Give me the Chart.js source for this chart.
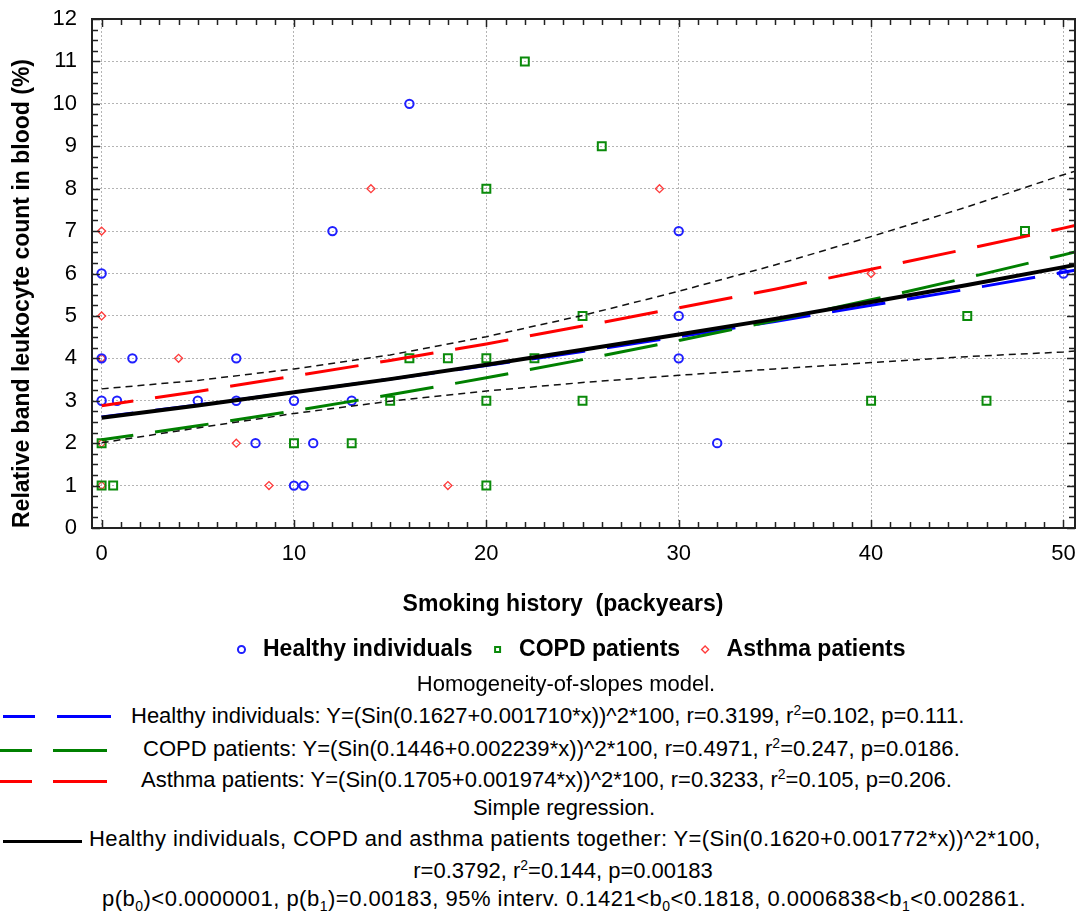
<!DOCTYPE html>
<html>
<head>
<meta charset="utf-8">
<script src="https://cdn.jsdelivr.net/npm/chart.js@4.4.1/dist/chart.umd.min.js"></script>
<style>
  body { margin: 0; background: #fff; }
  #wrap { position: relative; width: 1079px; height: 913px; overflow: hidden; }
  #box { position: absolute; left: 0; top: 0; width: 1079px; height: 680px; }
  .t { position: absolute; font: 22px "Liberation Sans", Arial, sans-serif; color: #000; white-space: nowrap; line-height: 26px; }
  .c { transform: translateX(-50%); }
  .t sup, .t sub { font-size: 14px; line-height: 0; }
  .s { position: absolute; height: 3px; }
</style>
</head>
<body>
<div id="wrap">
  <div id="box"><canvas id="chart"></canvas></div>

  <div class="t c" style="left:566px;top:671px">Homogeneity-of-slopes model.</div>

  <div class="s" style="left:3px;top:715px;width:32px;background:#0000ff"></div>
  <div class="s" style="left:57px;top:715px;width:54px;background:#0000ff"></div>
  <div class="t" style="left:131px;top:703px">Healthy individuals: Y=(Sin(0.1627+0.001710*x))^2*100, r=0.3199, r<sup>2</sup>=0.102, p=0.111.</div>

  <div class="s" style="left:0px;top:749px;width:32px;background:#008000"></div>
  <div class="s" style="left:53px;top:749px;width:54px;background:#008000"></div>
  <div class="t" style="left:143px;top:736px;letter-spacing:0.06px">COPD patients: Y=(Sin(0.1446+0.002239*x))^2*100, r=0.4971, r<sup>2</sup>=0.247, p=0.0186.</div>

  <div class="s" style="left:0px;top:780px;width:32px;background:#ff0000"></div>
  <div class="s" style="left:53px;top:780px;width:54px;background:#ff0000"></div>
  <div class="t" style="left:141px;top:767px">Asthma patients: Y=(Sin(0.1705+0.001974*x))^2*100, r=0.3233, r<sup>2</sup>=0.105, p=0.206.</div>

  <div class="t c" style="left:564px;top:795px">Simple regression.</div>

  <div class="s" style="left:3px;top:840px;width:79px;background:#000"></div>
  <div class="t" style="left:89px;top:826px;letter-spacing:0.4px">Healthy individuals, COPD and asthma patients together: Y=(Sin(0.1620+0.001772*x))^2*100,</div>
  <div class="t c" style="left:563px;top:858px">r=0.3792, r<sup>2</sup>=0.144, p=0.00183</div>
  <div class="t c" style="left:564px;top:886px;letter-spacing:0.5px">p(b<sub>0</sub>)&lt;0.0000001, p(b<sub>1</sub>)=0.00183, 95% interv. 0.1421&lt;b<sub>0</sub>&lt;0.1818, 0.0006838&lt;b<sub>1</sub>&lt;0.002861.</div>
</div>

<script>
// scatter data
var healthyX = [0, 0, 0, 0.8, 1.6, 5, 7, 7, 8, 10, 10, 10.5, 11, 12, 13, 16, 30, 30, 30, 32, 50];
var healthyY = [6, 4, 3, 3, 4, 3, 4, 3, 2, 3, 1, 1, 2, 7, 3, 10, 7, 5, 4, 2, 6];

var copdX = [0, 0, 0.6, 10, 13, 15, 16, 18, 20, 20, 20, 20, 22, 22.5, 25, 25, 26, 40, 45, 46, 48];
var copdY = [2, 1, 1, 2, 2, 3, 4, 4, 8, 4, 3, 1, 11, 4, 5, 3, 9, 3, 5, 3, 7];

var asthmaX = [0, 0, 0, 0, 0, 4, 7, 8.7, 14, 18, 29, 40];
var asthmaY = [7, 5, 4, 2, 1, 4, 2, 1, 8, 1, 8, 6];

// fitted curves, read at every 5 packyears
var fitX = [0, 5, 10, 15, 20, 25, 30, 35, 40, 45, 50, 50.6];
var healthyFit = [2.62, 2.90, 3.20, 3.51, 3.83, 4.16, 4.51, 4.87, 5.25, 5.63, 6.03, 6.08];
var copdFit = [2.08, 2.41, 2.76, 3.14, 3.54, 3.97, 4.42, 4.89, 5.38, 5.90, 6.44, 6.51];
var asthmaFit = [2.88, 3.22, 3.58, 3.95, 4.34, 4.76, 5.19, 5.63, 6.10, 6.58, 7.07, 7.13];
var allFit = [2.60, 2.89, 3.20, 3.51, 3.85, 4.20, 4.56, 4.93, 5.33, 5.73, 6.15, 6.20];
var upperBand = [3.28, 3.48, 3.75, 4.08, 4.51, 5.01, 5.58, 6.20, 6.87, 7.57, 8.33, 8.41];
var lowerBand = [2.01, 2.36, 2.70, 2.99, 3.23, 3.43, 3.60, 3.75, 3.90, 4.04, 4.15, 4.17];

var xTicks = [0, 10, 20, 30, 40, 50];
var yTicks = [0, 1, 2, 3, 4, 5, 6, 7, 8, 9, 10, 11, 12];

var xTitle = 'Smoking history  (packyears)';
var yTitle = 'Relative band leukocyte count in blood (%)';

function toPoints(xs, ys) {
    return xs.map(function(x, i) { return {x: x, y: ys[i]}; });
}

var FONT = '"Liberation Sans", Arial, sans-serif';
Chart.defaults.font.family = FONT;
Chart.defaults.color = '#000';

// frame, inward tick marks and the x title
var framePlugin = {
    id: 'frame',
    afterLayout: function(chart) {
        // legend sits a little left of the plot centre in the original
        chart.legend.left -= 15;
        chart.legend.right -= 15;
    },
    afterDraw: function(chart) {
        var ctx = chart.ctx;
        var a = chart.chartArea;
        var xs = chart.scales.x;
        var ys = chart.scales.y;
        ctx.save();
        ctx.strokeStyle = '#222';
        ctx.lineWidth = 1.5;
        ctx.beginPath();
        for (var v = Math.ceil(xs.min); v <= xs.max; v++) {
            var px = Math.round(xs.getPixelForValue(v)) + 0.5;
            var len = v % 10 === 0 ? 8 : 6;
            ctx.moveTo(px, a.bottom); ctx.lineTo(px, a.bottom - len);
            ctx.moveTo(px, a.top); ctx.lineTo(px, a.top + len);
        }
        for (var k = 0; k <= ys.max * 4; k++) {
            var py = Math.round(ys.getPixelForValue(k / 4)) + 0.5;
            var l2 = k % 4 === 0 ? 8 : 6;
            ctx.moveTo(a.left, py); ctx.lineTo(a.left + l2, py);
            ctx.moveTo(a.right, py); ctx.lineTo(a.right - l2, py);
        }
        ctx.stroke();
        ctx.lineWidth = 2;
        ctx.strokeRect(a.left, a.top, a.right - a.left, a.bottom - a.top);
        ctx.fillStyle = '#000';
        ctx.font = 'bold 23px ' + FONT;
        ctx.textAlign = 'center';
        ctx.textBaseline = 'middle';
        ctx.fillText(xTitle, 563, a.bottom + 77);
        ctx.restore();
    }
};

var markerSets = [
    {label: 'Healthy individuals', data: toPoints(healthyX, healthyY), pointStyle: 'circle', pointRadius: 4.2, borderColor: '#1f1fff', borderWidth: 2, order: 10},
    {label: 'COPD patients', data: toPoints(copdX, copdY), pointStyle: 'rect', pointRadius: 5.6, borderColor: '#0a8a0a', borderWidth: 2, order: 11},
    {label: 'Asthma patients', data: toPoints(asthmaX, asthmaY), pointStyle: 'rectRot', pointRadius: 4, borderColor: '#ff3a3a', borderWidth: 1.3, order: 12}
];
markerSets.forEach(function(d) {
    d.type = 'scatter';
    d.backgroundColor = 'rgba(0,0,0,0)';
    d.pointBorderColor = d.borderColor;
    d.pointBorderWidth = d.borderWidth;
    d.pointHoverRadius = d.pointRadius;
});

function fitLine(label, ys, color, width, dash, offset, order) {
    return {
        type: 'line',
        label: label,
        data: toPoints(fitX, ys),
        borderColor: color,
        borderWidth: width,
        borderDash: dash,
        borderDashOffset: offset,
        pointRadius: 0,
        tension: 0,
        fill: false,
        order: order
    };
}

var data = {
    datasets: markerSets.concat([
        fitLine('Healthy fit', healthyFit, '#0000ff', 3, [54, 22], 22, 6),
        fitLine('COPD fit', copdFit, '#008000', 3, [54, 22], 22, 5),
        fitLine('Asthma fit', asthmaFit, '#ff0000', 3, [54, 22], 22, 4),
        fitLine('All fit', allFit, '#000000', 4, [], 0, 3),
        fitLine('Upper 95%', upperBand, '#111111', 1.5, [7, 5], 0, 2),
        fitLine('Lower 95%', lowerBand, '#111111', 1.5, [7, 5], 0, 2)
    ])
};

var config = {
    type: 'scatter',
    data: data,
    plugins: [framePlugin],
    options: {
        responsive: true,
        maintainAspectRatio: false,
        animation: false,
        layout: {
            autoPadding: false,
            padding: {top: 19, right: 4, left: 0, bottom: 9}
        },
        plugins: {
            legend: {
                display: true,
                position: 'bottom',
                fullSize: false,
                labels: {
                    filter: function(item) { return item.datasetIndex < 3; },
                    usePointStyle: true,
                    boxWidth: 20,
                    boxHeight: 5,
                    padding: 15,
                    color: '#000',
                    font: {size: 23, weight: 'bold'}
                }
            },
            tooltip: {enabled: false}
        },
        scales: {
            x: {
                type: 'linear',
                min: -0.5,
                max: 50.6,
                afterBuildTicks: function(scale) {
                    scale.ticks = xTicks.map(function(v) { return {value: v}; });
                },
                afterFit: function(scale) {
                    scale.height = 95;
                    scale.paddingLeft = 0;
                    scale.paddingRight = 0;
                },
                border: {display: false, dash: [2, 2]},
                grid: {
                    drawTicks: false,
                    color: '#b4b4b4',
                    lineWidth: 1
                },
                ticks: {
                    padding: 13,
                    color: '#000',
                    font: {size: 22}
                }
            },
            y: {
                type: 'linear',
                min: 0,
                max: 12,
                afterBuildTicks: function(scale) {
                    scale.ticks = yTicks.map(function(v) { return {value: v}; });
                },
                afterFit: function(scale) {
                    scale.width = 92;
                    scale.paddingTop = 0;
                    scale.paddingBottom = 0;
                },
                border: {display: false, dash: [2, 2]},
                grid: {
                    drawTicks: false,
                    color: '#b4b4b4',
                    lineWidth: 1
                },
                ticks: {
                    padding: 15,
                    color: '#000',
                    font: {size: 22}
                },
                title: {
                    display: true,
                    text: yTitle,
                    align: 'start',
                    padding: {top: 9, bottom: 0},
                    color: '#000',
                    font: {size: 23, weight: 'bold'}
                }
            }
        }
    }
};

var chart = new Chart(document.getElementById('chart'), config);
</script>
</body>
</html>
